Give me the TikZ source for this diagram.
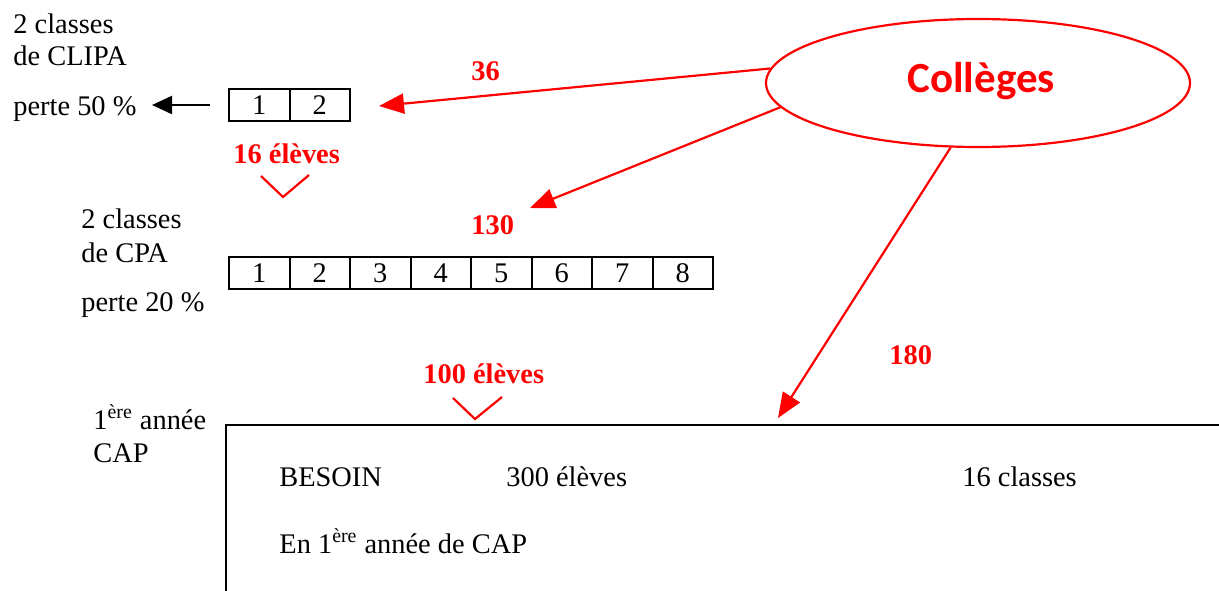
\documentclass[tikz,border=0pt]{standalone}
\usepackage{fontspec}
\setmainfont{Liberation Serif}
\newfontfamily\carlito{Carlito}
\usetikzlibrary{shapes.geometric,arrows.meta}
\begin{document}
\begin{tikzpicture}[x=0.5pt,y=-0.5pt,
  txt/.style={anchor=base west,inner sep=0pt,font=\fontsize{14.2}{17}\selectfont},
  lbl/.style={anchor=base west,inner sep=0pt,text=red,font=\fontsize{14.2}{17}\selectfont\bfseries},
  cell/.style={draw,line width=1pt,minimum width=30.25pt,minimum height=16pt,inner sep=0pt,outer sep=0pt,font=\fontsize{14.2}{17}\selectfont},
  redarrow/.style={draw=red,line width=1.1pt,-{Triangle[length=12.5pt,width=10pt]},fill=red},
  chev/.style={draw=red,line width=1.1pt}]
\useasboundingbox (0,0) rectangle (1219,590);

% left texts
\node[txt] (t1) at (13,33) {2 classes};
\node[txt] (t2) at (13,65) {de CLIPA};
\node[txt] (t3) at (13,115) {perte 50 \%};
\node[txt] (t4) at (81,228) {2 classes};
\node[txt] (t5) at (81,262) {de CPA};
\node[txt] (t6) at (81,311) {perte 20 \%};
\node[txt] (t7) at (93,429) {1\textsuperscript{ère} année};
\node[txt] (t8) at (93,462) {CAP};

% CLIPA cells
\node[cell] (a1) at (259.25,105) {1};
\node[cell] (a2) at (319.75,105) {2};

% CPA cells
\foreach \i in {1,...,8}{
  \node[cell] (b\i) at ({229+60.5*(\i-0.5)},273) {\i};
}

% black arrow
\coordinate (ba1) at (210,105);
\coordinate (ba2) at (152,105);
\draw[line width=1pt,-{Triangle[length=10pt,width=9pt]}] (ba1) -- (ba2);

% ellipse
\node[ellipse,draw=red,line width=1.1pt,minimum width=212pt,minimum height=64pt,inner sep=0pt] (col) at (978,83) {};
\node[anchor=base west,inner sep=0pt,text=red,font=\fontsize{21.5}{26}\selectfont\carlito\bfseries] (colt) at (907,92) {Collèges};

% red arrows
\coordinate (p36) at (379,106);
\coordinate (p130) at (530,208);
\coordinate (p180) at (778,418);
\draw[redarrow] (col.176.5) -- (p36);
\draw[redarrow] (col.187.3) -- (p130);
\draw[redarrow] (col.247.6) -- (p180);

% red labels
\node[lbl] (l36) at (471,80) {36};
\node[lbl] (l130) at (471,234) {130};
\node[lbl] (l180) at (889,364) {180};
\node[lbl] (l16) at (233,163) {16 élèves};
\node[lbl] (l100) at (423,383) {100 élèves};

% chevrons
\draw[chev] (261,176) -- (283,197) -- (309,175);
\draw[chev] (453,398) -- (475,419) -- (502,397);

% besoin box
\draw[line width=1pt] (226,595) -- (226,425) -- (1225,425);
\node[txt] (bes) at (279,486) {BESOIN};
\node[txt] (e300) at (506,486) {300 élèves};
\node[txt] (c16) at (962,486) {16 classes};
\node[txt] (en) at (279,553) {En 1\textsuperscript{ère} année de CAP};
\end{tikzpicture}
\end{document}
